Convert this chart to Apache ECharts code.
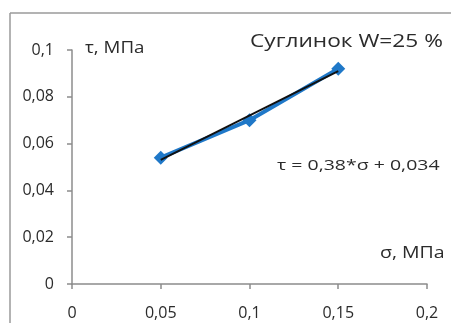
<!DOCTYPE html>
<html>
<head>
<meta charset="utf-8">
<script src="https://cdn.jsdelivr.net/npm/echarts@6/dist/echarts.min.js"></script>
<style>
  html, body { margin: 0; padding: 0; background: #fff; }
  #chart { width: 451px; height: 323px; }
</style>
</head>
<body>
<div id="chart"></div>
<script>
// measured points
const sigma = [0.05, 0.1, 0.15]
const tau = [0.054, 0.070, 0.092]
// trend line  tau = 0.38*sigma + 0.034
const trendK = 0.38
const trendB = 0.034
const trendX = [0.05, 0.15]
const xTicks = [0, 0.05, 0.1, 0.15, 0.2]
const yTicks = [0, 0.02, 0.04, 0.06, 0.08, 0.1]

var chart = echarts.init(document.getElementById('chart'))
const comma = v => String(+v.toFixed(3)).replace('.', ',')
const font = 'Open Sans, Liberation Sans, sans-serif'

// text that is a bit stretched horizontally, like in the source picture
function label(text, x, y, size, sx) {
    return {
        type: 'text', x: x, y: y, scaleX: sx,
        style: { text: text, fill: '#2b2b2b', font: size + 'px ' + font, textVerticalAlign: 'middle' }
    }
}

var option = {
    animation: false,
    grid: { left: 72, right: 24, top: 50, bottom: 39 },
    xAxis: {
        type: 'value',
        min: xTicks[0], max: xTicks[xTicks.length - 1], interval: 0.05,
        axisLine: { show: true, lineStyle: { color: '#8c8c8c', width: 1.5 } },
        axisTick: { show: true, length: 5, lineStyle: { color: '#8c8c8c', width: 1.5 } },
        splitLine: { show: false },
        axisLabel: { color: '#2b2b2b', fontSize: 16, fontFamily: font, margin: 21, formatter: comma }
    },
    yAxis: {
        type: 'value',
        min: yTicks[0], max: yTicks[yTicks.length - 1], interval: 0.02,
        axisLine: { show: true, lineStyle: { color: '#8c8c8c', width: 1.5 } },
        axisTick: { show: true, length: 5, lineStyle: { color: '#8c8c8c', width: 1.5 } },
        splitLine: { show: false },
        axisLabel: { color: '#2b2b2b', fontSize: 16, fontFamily: font, margin: 18, formatter: comma }
    },
    graphic: [
        { type: 'line', shape: { x1: 10, y1: 13, x2: 451, y2: 13 }, style: { stroke: '#9a9a9a', lineWidth: 1.5 } },
        { type: 'line', shape: { x1: 10, y1: 13, x2: 10, y2: 323 }, style: { stroke: '#9a9a9a', lineWidth: 1.5 } },
        label('τ, МПа', 85, 48, 16, 1.17),
        label('Суглинок W=25 %', 250, 42, 18, 1.26),
        label('τ = 0,38*σ + 0,034', 277, 166, 15, 1.3),
        label('σ, МПа', 380, 253, 16, 1.22)
    ],
    series: [{
        type: 'line',
        data: sigma.map((s, i) => [s, tau[i]]),
        symbol: 'diamond',
        symbolSize: 14,
        lineStyle: { color: '#1f78c8', width: 4 },
        itemStyle: { color: '#1f78c8' },
        z: 2
    }, {
        type: 'line',
        data: trendX.map(s => [s, trendK * s + trendB]),
        symbol: 'none',
        lineStyle: { color: '#111', width: 2 },
        z: 3
    }]
}

chart.setOption(option)
</script>
</body>
</html>
